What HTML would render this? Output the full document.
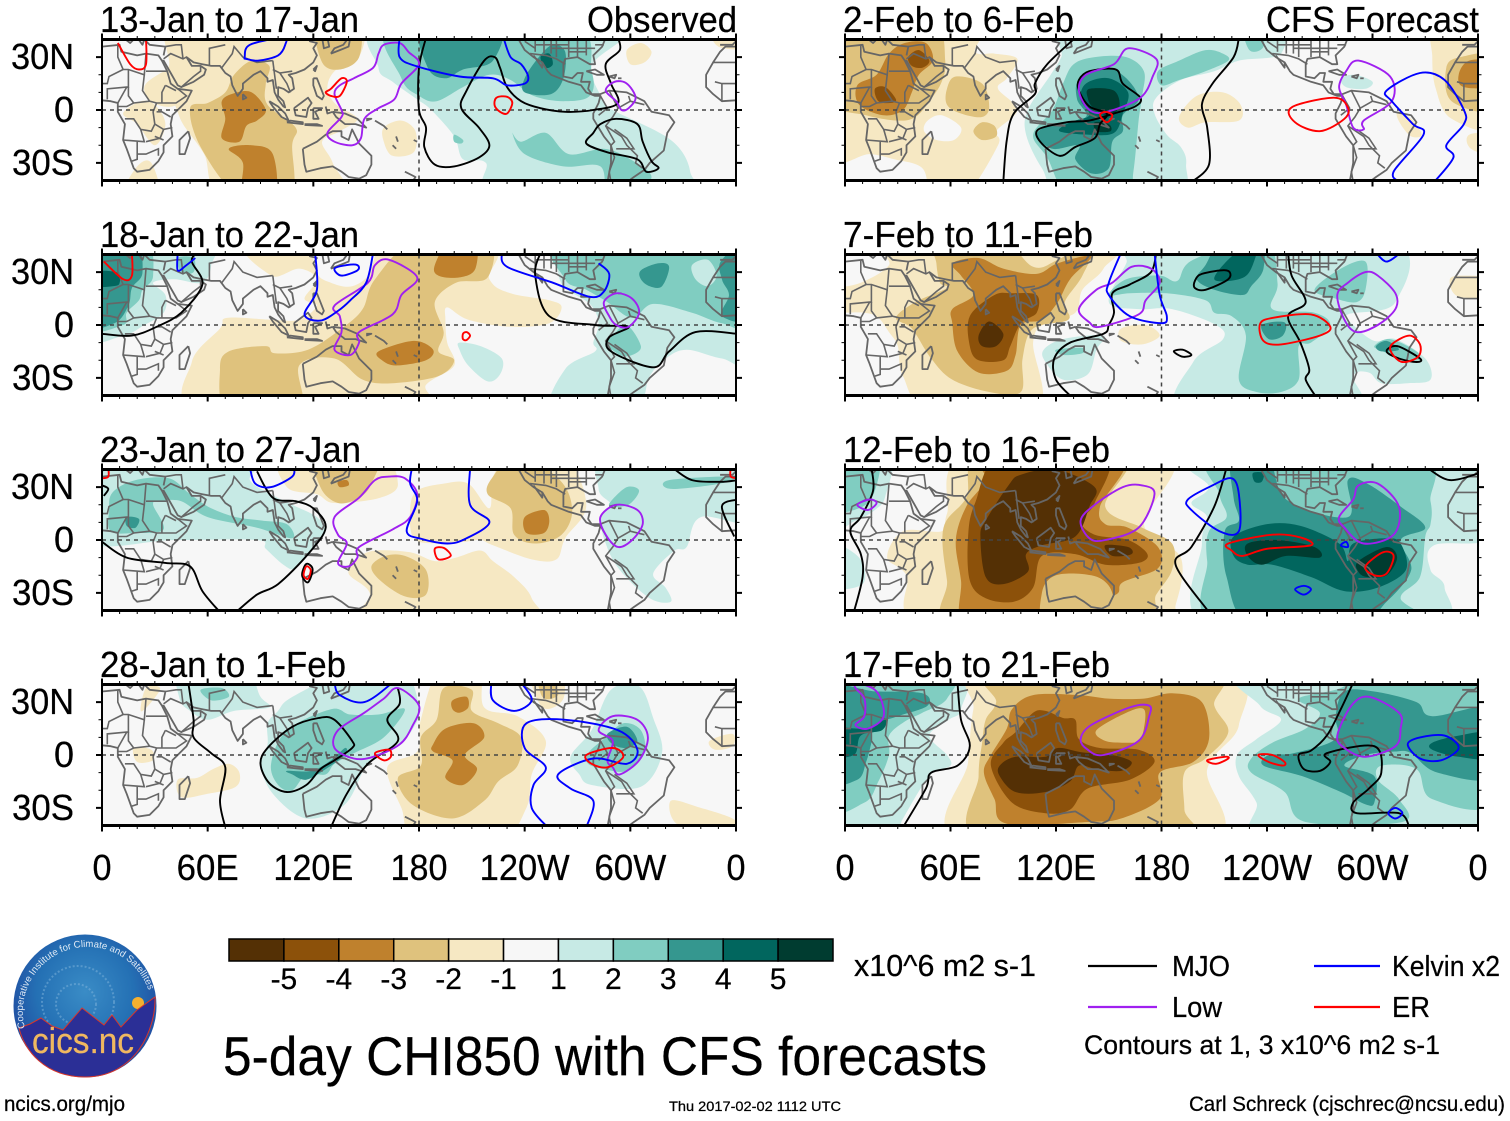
<!DOCTYPE html>
<html lang="en">
<head>
<meta charset="utf-8">
<title>5-day CHI850 with CFS forecasts</title>
<style>
html,body{margin:0;padding:0;background:#fff;}
svg{display:block;}
text{font-family:"Liberation Sans",sans-serif;fill:#000;stroke:#000;stroke-width:.25;}
</style>
</head>
<body>
<svg id="chart" xmlns="http://www.w3.org/2000/svg" width="1510" height="1121" viewBox="0 0 1510 1121">
  <defs>
    <radialGradient id="logoGrad" cx="50%" cy="40%" r="62%">
      <stop offset="0%" stop-color="#3a8cc6"/>
      <stop offset="55%" stop-color="#2470b4"/>
      <stop offset="100%" stop-color="#20439c"/>
    </radialGradient>
    <path id="logoArc" d="M25 1028 A64 64 0 1 1 150 995"/>
  </defs>
  <g id="panels"></g>
  <g id="colorbar"></g>

  <text x="854" y="976" font-size="31" textLength="182" lengthAdjust="spacingAndGlyphs">x10^6 m2 s-1</text>

  <g>
    <line x1="1088" x2="1157" y1="966" y2="966" stroke="#000" stroke-width="2.2"/>
    <text x="1172" y="976" font-size="29" textLength="58" lengthAdjust="spacingAndGlyphs">MJO</text>
    <line x1="1088" x2="1157" y1="1007" y2="1007" stroke="#a020f0" stroke-width="2.2"/>
    <text x="1172" y="1017" font-size="29" textLength="50" lengthAdjust="spacingAndGlyphs">Low</text>
    <line x1="1314" x2="1380" y1="966" y2="966" stroke="#0000ff" stroke-width="2.2"/>
    <text x="1392" y="976" font-size="29" textLength="108" lengthAdjust="spacingAndGlyphs">Kelvin x2</text>
    <line x1="1314" x2="1380" y1="1007" y2="1007" stroke="#ff0000" stroke-width="2.2"/>
    <text x="1392" y="1017" font-size="29" textLength="38" lengthAdjust="spacingAndGlyphs">ER</text>
    <text x="1084" y="1054" font-size="27" textLength="356" lengthAdjust="spacingAndGlyphs">Contours at 1, 3 x10^6 m2 s-1</text>
  </g>

  <text x="223" y="1075" font-size="55" textLength="764" lengthAdjust="spacingAndGlyphs">5-day CHI850 with CFS forecasts</text>
  <text x="4" y="1111" font-size="21" textLength="121" lengthAdjust="spacingAndGlyphs">ncics.org/mjo</text>
  <text x="669" y="1111" font-size="14" textLength="172" lengthAdjust="spacingAndGlyphs">Thu 2017-02-02 1112 UTC</text>
  <text x="1189" y="1111" font-size="21" textLength="316" lengthAdjust="spacingAndGlyphs">Carl Schreck (cjschrec@ncsu.edu)</text>

  <g>
    <ellipse cx="85" cy="1006" rx="71.5" ry="71.5" fill="url(#logoGrad)"/>
    <circle cx="78" cy="1002" r="36" fill="none" stroke="#7fb4dc" stroke-width="2" stroke-dasharray="2 2" opacity=".5"/>
    <circle cx="76" cy="1004" r="20" fill="none" stroke="#7fb4dc" stroke-width="2" stroke-dasharray="2 2" opacity=".5"/>
    <circle cx="138" cy="1003" r="6" fill="#f5b030"/>
    <path d="M19 1028 L30 1024 L41 1018 L52 1026 L63 1030 L82 1008 L104 1025 L112 1015 L121 1027 L137 1010 L155 997 C156 1030 135 1077 85 1077 C45 1077 24 1050 19 1028 Z" fill="#2b2f96" stroke="#d8362a" stroke-width="1"/>
    <text font-size="9.6" style="fill:#dfe9f5;stroke:none"><textPath href="#logoArc">Cooperative Institute for Climate and Satellites</textPath></text>
    <text x="32" y="1053" font-size="36" textLength="102" lengthAdjust="spacingAndGlyphs" style="fill:#f0b860;stroke:#f0b860">cics.nc</text>
  </g>
</svg>

<script>
// ---------- axis ticks ----------
const xTickLons = [0, 60, 120, 180, 240, 300, 360];
const xTickLabels = ['0', '60E', '120E', '180', '120W', '60W', '0'];
const yTickLats = [30, 0, -30];
const yTickLabels = ['30N', '0', '30S'];

// ---------- colour key ----------
const keyLabels = ['-5', '-4', '-3', '-2', '-1', '1', '2', '3', '4', '5'];

// ---------- coastlines and borders (lon, lat) ----------
const coastLines = [
 [[0,36],[10,37],[11,33],[20,31],[25,32],[32,31],[34,28],[37,22],[39,15],[43,12],[51,11],[48,5],[40,-3],[39,-8],[40,-15],[35,-20],[35,-24],[32,-29],[27,-34],[20,-35],[18,-33],[14,-22],[12,-17],[13,-8],[9,-1],[9,4],[5,5],[0,5.5]],
 [[360,5.5],[352,5],[347,9],[343,13],[343,20],[347,27],[351,33],[354,36],[360,36]],
 [[351,37],[354,37],[358,37],[360,39]],
 [[0,39],[3,42]],
 [[12,41],[16,38],[18,40],[14,41]],
 [[20,41],[23,37],[24,40],[27,37],[36,36],[35,31]],
 [[27,41],[36,41.5],[41,41]],
 [[34,28],[35,28],[39,21],[43,14],[45,13],[52,16],[58,20],[59,23],[56,25],[51,25],[48,30],[52,27],[57,26],[62,25],[67,25],[70,21],[73,19],[74,14],[77,8],[80,12],[80,15],[86,20],[90,22],[94,18],[94,16],[97,17],[98,10],[100,6],[103,2],[104,1.5],[103,5],[100,8],[100,13],[103,12],[106,10],[109,12],[108,18],[106,20],[110,21],[115,23],[120,27],[122,31],[120,35],[122,38],[118,39],[122,41]],
 [[125,41],[126,35],[129,36],[128,41]],
 [[130,32],[135,34],[140,36],[141,41]],
 [[130,32],[132,35],[137,37],[140,41]],
 [[120,23],[122,25],[121,22],[120,23]],
 [[120,18],[122,18],[124,13],[126,8],[125,6],[122,8],[120,14],[120,18]],
 [[109,1],[113,4],[117,7],[119,4],[117,1],[116,-4],[110,-3],[109,1]],
 [[95,5],[100,2],[104,-2],[106,-6],[102,-4],[97,2],[95,5]],
 [[105,-7],[114,-8],[114,-7],[107,-6],[105,-7]],
 [[115,-8.5],[125,-9],[122,-8],[115,-8]],
 [[120,1],[125,1],[121,-1],[123,-5],[120,-5],[120,1]],
 [[127,2],[128,-2],[131,-1]],
 [[131,-1],[138,-2],[145,-5],[150,-10],[144,-8],[138,-8],[133,-4],[131,-1]],
 [[150,-5],[153,-5],[150,-6]],
 [[155,-6],[160,-9],[162,-11]],
 [[167,-15],[168,-18]],
 [[165,-20],[167,-22]],
 [[177,-17],[179,-18]],
 [[114,-22],[122,-18],[127,-14],[131,-12],[136,-12],[136,-15],[140,-17],[142,-11],[146,-19],[153,-26],[153,-31],[150,-37],[146,-39],[140,-38],[136,-35],[131,-32],[124,-33],[116,-35],[115,-31],[114,-22]],
 [[172,-35],[178,-38],[176,-41]],
 [[49,-12],[50,-16],[47,-25],[44,-25],[44,-17],[49,-12]],
 [[80,9],[82,7],[80,6],[80,9]],
 [[236,41],[240,34],[245,30],[250,27],[253,22],[255,20],[265,16],[272,14],[275,10],[280,8],[283,8],[282,4],[279,-2],[279,-5],[285,-15],[289,-20],[289,-30],[287,-41]],
 [[298,-41],[302,-38],[308,-34],[311,-30],[319,-23],[321,-13],[325,-7],[322,-3],[312,-1],[308,5],[298,10],[288,11],[283,9],[278,9],[276,12],[277,16],[272,16],[273,21],[270,21],[267,18],[262,19],[262,26],[263,29],[270,30],[277,26],[280,26],[279,31],[284,36],[286,41]],
 [[245,31],[250,24],[250,27]],
 [[275,22],[280,23],[285,20],[281,20],[275,22]],
 [[288,19],[292,20],[291,18],[288,19]],
 [[293,18],[295,18]]
];
const borderLines = [
 [[9,37],[9,30],[12,23],[15,23],[24,20],[25,32]],
 [[25,22],[37,22]],
 [[12,23],[4,19],[3,15],[0,15]],
 [[15,23],[15,13],[14,13],[3,12],[3,6]],
 [[14,13],[9,4]],
 [[24,20],[23,11],[27,5],[31,4],[36,4],[42,4],[48,8],[43,12]],
 [[13,-5],[18,-5],[22,-11],[28,-12],[30,-8],[29,-1],[31,4]],
 [[12,-17],[24,-18],[22,-11]],
 [[40,-10],[35,-11],[30,-8]],
 [[39,-4],[34,-1],[31,-1]],
 [[20,-18],[20,-28],[17,-29]],
 [[25,-18],[33,-16],[35,-11]],
 [[20,-25],[25,-25],[32,-22],[32,-26]],
 [[35,-17],[30,-15]],
 [[36,14],[34,10],[34,4]],
 [[36,14],[42,11]],
 [[15,13],[15,8],[18,4],[14,2],[9,2]],
 [[18,4],[27,5]],
 [[35,29],[39,32],[46,29],[48,30]],
 [[45,13],[52,19],[56,22],[56,25]],
 [[61,25],[61,35],[70,37]],
 [[36,36],[42,37],[45,37],[46,29]],
 [[68,24],[74,32],[75,36],[80,30],[88,27],[97,28]],
 [[97,28],[98,20],[99,12]],
 [[97,23],[101,21],[105,15],[107,10]],
 [[101,21],[108,22]],
 [[0,15],[0,5.5]],
 [[360,15],[352,15],[348,16]],
 [[360,27],[352,27],[347,27]],
 [[352,15],[352,5]],
 [[288,11],[293,1],[290,-4],[286,-9],[291,-18],[289,-20],[291,-27],[288,-35],[289,-41]],
 [[300,5],[293,1]],
 [[286,-9],[295,-15],[298,-20],[304,-26],[303,-30],[307,-33]],
 [[291,-11],[298,-16],[302,-22],[292,-22]],
 [[299,8],[300,5],[308,3]],
 [[283,8],[287,1],[282,-3]],
 [[243,32],[252,31],[258,29],[263,26]],
 [[246,41],[246,33]],[[251,41],[251,32]],[[255,41],[255,32]],[[258,41],[258,30]],
 [[265,41],[265,30]],[[270,41],[270,30]],[[275,40],[275,31]],
 [[246,37],[265,37]],[[255,35],[280,35]],[[265,33],[275,33]],[[240,39],[246,35]],[[280,37],[285,37]]
];

// ---------- panel 1: 13-Jan to 17-Jan ----------
const fillsJan13 = [
 [-1,[[40,41],[100,41],[145,41],[146,30],[132,22],[128,12],[133,3],[145,-5],[135,-12],[125,-18],[131,-30],[135,-41],[70,-41],[58,-25],[46,-8],[40,5],[30,10],[38,25]]],
 [-1,[[25,15],[45,25],[50,10],[40,2],[28,5]]],
 [-1,[[12,-2],[22,5],[30,3],[36,-8],[30,-20],[20,-8]]],
 [-1,[[12,-41],[32,-41],[28,-30],[20,-32]]],
 [-1,[[160,-10],[170,-6],[178,-12],[177,-24],[165,-26],[160,-18]]],
 [-1,[[298,34],[306,38],[312,33],[308,27],[300,26]]],
 [-1,[[347,41],[361,41],[361,36],[350,36]]],
 [-2,[[50,1],[60,4],[70,10],[75,20],[85,28],[95,25],[93,15],[94,3],[110,-10],[108,-20],[107,-41],[78,-41],[56,-21]]],
 [-2,[[122,41],[145,41],[146,30],[135,23],[125,27]]],
 [-3,[[68,5],[75,9.5],[85,10],[93,0],[88,-6],[82,-9],[78,-18],[68,-16],[70,-5]]],
 [-3,[[72,-22],[85,-20],[97,-25],[98,-41],[80,-41],[80,-30]]],
 [1,[[162,41],[293,41],[278,25],[285,5],[290,0],[323,-17],[334,-35],[328,-41],[225,-41],[218,-30],[205,-28],[200,-15],[187,0],[179,6],[165,16],[157,24]]],
 [2,[[166,41],[265,41],[278,22],[277,8],[262,5],[245,8],[232,17],[220,20],[205,13],[190,5],[180,8],[170,18]]],
 [2,[[233,-13],[238,-18],[252,-13],[265,-25],[285,-22],[300,-28],[312,-38],[300,-41],[287,-41],[283,-32],[262,-32],[240,-25]]],
 [2,[[200,-14],[205,-17],[204,-19],[200,-18]]],
 [3,[[182,41],[225,41],[222,28],[205,23],[195,18],[185,24]]],
 [3,[[240,10],[255,9],[262,18],[263,33],[256,37],[248,30],[240,18]]],
 [4,[[249,30],[254,32],[256,26],[252,24]]]
];
const contoursJan13 = [
 ['mjo','open',[[184,41],[180,24],[180,0],[184,-10],[183,-21],[189,-31],[200,-32],[214,-27],[220,-20],[214,-10],[204,1],[207,11],[217,28],[223,30],[226,24],[230,13],[238,5],[249,1],[263,-1],[279,0],[293,4],[289,15],[286,26],[294,34],[293,41]]],
 ['mjo','closed',[[283,-8],[292,-5],[304,-8],[307,-18],[312,-29],[316,-33],[309,-35],[304,-28],[287,-24],[275,-19],[279,-13]]],
 ['low','closed',[[169,38],[160,37],[157,32],[154,24],[143,18],[135,14],[132,9],[136,0],[136,-4],[128,-13],[132,-18],[142,-20],[147,-16],[149,-5],[157,1],[166,6],[170,15],[180,26],[174,33]]],
 ['low','closed',[[291,16],[298,15],[303,7],[299,1],[295,0],[292,5],[286,11]]],
 ['kelvin','closed',[[81,30],[84,37],[103,41],[104,37],[100,31],[89,28],[82,29]]],
 ['kelvin','open',[[169,41],[169,30],[178,25],[203,19],[222,18],[230,14],[240,15],[242,19],[238,26],[232,30],[228,41]]],
 ['er','open',[[9,38],[16,26],[21,23],[25,26],[25,41]]],
 ['er','closed',[[130,12],[136,18],[139,16],[135,8],[130,8],[127,10]]],
 ['er','closed',[[224,7],[230,7.5],[233,4],[230,-2],[226,-1],[223,2.5]]]
];

// ---------- panel 2: 18-Jan to 22-Jan ----------
const fillsJan18 = [
 [1,[[0,41],[60,41],[62,34],[57,24],[41,26],[29,24],[36,17],[35,7],[24,0],[12,-6],[0,-6]]],
 [2,[[0,41],[24,41],[29,28],[23,20],[21,14],[14,7],[12,0],[0,0]]],
 [2,[[43,38],[52,38],[52,30],[45,30]]],
 [3,[[0,41],[18,41],[23,30],[17,21],[15,11],[7,1],[0,2]]],
 [4,[[0,30],[8,30],[10,24],[6,22],[0,22]]],
 [1,[[256,41],[361,41],[361,-20],[352,-19],[332,-14],[320,-19],[311,-29],[301,-41],[256,-41],[263,-25],[280,-15],[279,-10],[282,1],[277,12],[262,22],[258,36]]],
 [1,[[203,-10],[215,-12],[227,-19],[226,-28],[219,-32],[208,-23],[203,-14]]],
 [2,[[262,41],[361,41],[361,0],[352,1],[335,7],[313,12],[301,4],[287,13],[275,20],[263,26]]],
 [2,[[290,-6],[298,0],[306,-12],[301,-17],[294,-17],[286,-10]]],
 [1,[[335,34],[344,37],[349,28],[344,22],[337,26]]],
 [3,[[306,31],[316,35],[322,33],[318,22],[311,22],[306,26]]],
 [3,[[352,37],[361,41],[361,5],[352,5],[356,17],[352,26]]],
 [-1,[[88,41],[215,41],[220,26],[232,18],[254,14],[261,10],[254,1],[232,-1],[208,3],[196,10],[195,3],[196,-10],[200,-23],[184,-34],[179,-41],[57,-41],[51,-21],[67,-2],[71,4],[96,3],[112,3],[122,11],[115,15],[122,26],[112,32],[96,28]]],
 [0,[[122,41],[153,41],[152,30],[142,22],[130,24],[122,30]]],
 [-2,[[155,26],[179,41],[219,41],[219,27],[201,24],[189,13],[194,-4],[191,-15],[200,-20],[191,-29],[165,-33],[148,-31],[132,-19],[112,-23],[112,-41],[72,-41],[67,-25],[72,-15],[93,-12],[98,-16],[117,-14],[136,-2],[148,9]]],
 [-3,[[189,34],[198,41],[212,41],[212,32],[203,27],[191,28]]],
 [-3,[[157,-15],[177,-9],[188,-14],[184,-20],[167,-23],[159,-20]]]
];
const contoursJan18 = [
 ['mjo','open',[[0,-5],[17,-6],[31,-1],[45,7],[57,23],[51,36],[54,41]]],
 ['mjo','open',[[249,41],[246,28],[254,5],[280,0],[299,-1],[288,-7],[289,-15],[313,-24],[322,-15],[337,-4],[361,-5]]],
 ['low','closed',[[163,37],[179,27],[170,17],[165,6],[146,-4],[146,-10],[141,-17],[132,-14],[136,-4],[135,5],[132,11],[151,24],[155,34]]],
 ['low','closed',[[285,13],[292,18],[301,15],[305,7],[299,-1],[292,0],[288,5]]],
 ['kelvin','closed',[[139,34],[145,34],[145,31],[136,28],[132,32]]],
 ['kelvin','open',[[154,41],[150,24],[141,14],[134,8],[124,2.5],[115,6],[122,20],[121,41]]],
 ['kelvin','open',[[43,41],[43,31],[48,34],[53,38]]],
 ['kelvin','open',[[227,41],[230,33],[256,24],[277,16],[285,19],[288,29],[282,35]]],
 ['er','open',[[1,36],[12,26],[17,28],[17,41]]],
 ['er','closed',[[205,-5],[207,-4],[209,-6],[207,-8.5],[205,-8]]]
];

// ---------- panel 3: 23-Jan to 27-Jan ----------
const fillsJan23 = [
 [1,[[0,41],[84,41],[84,34],[96,26],[108,20],[122,13],[127,5],[120,-4],[110,-16],[103,-14],[93,-5],[88,0],[41,0],[0,0]]],
 [2,[[6,27],[19,34],[38,35],[50,26],[62,18],[76,13],[91,11],[105,9],[108,1],[88,7],[60,13],[45,22],[33,22],[29,20],[35,6],[19,4],[5,5],[4,17]]],
 [3,[[14,13],[21,12],[19,7],[14,8]]],
 [1,[[289,41],[361,41],[361,11],[340,13],[332,-4],[325,-6],[313,-19],[320,-27],[323,-35],[311,-33],[294,-17],[286,-2],[283,13],[289,20],[282,29]]],
 [2,[[289,22],[298,30],[305,28],[299,20],[289,19]]],
 [2,[[322,34],[358,36],[351,32],[323,29]]],
 [-1,[[105,30],[103,41],[156,41],[168,32],[158,24],[132,21],[122,26]]],
 [-1,[[175,18],[179,28],[194,32],[208,32],[220,18],[222,36],[234,41],[262,41],[275,20],[263,1],[258,-11],[244,-11],[222,-3],[215,0],[206,-1],[191,-2],[177,1]]],
 [-1,[[146,-10],[155,-6],[175,-7],[189,-12],[201,-10],[215,-6],[222,-12],[234,-21],[244,-33],[244,-41],[151,-41],[152,-30],[140,-19]]],
 [-2,[[122,41],[156,41],[153,32],[146,24],[134,21],[124,30]]],
 [-2,[[219,26],[222,36],[236,41],[260,34],[267,17],[261,3],[246,-2],[234,3],[232,18]]],
 [-2,[[153,-15],[161,-9],[172,-9],[184,-17],[184,-31],[172,-32],[158,-23]]],
 [-3,[[240,13],[251,17],[254,11],[251,4],[241,4]]],
 [-3,[[134,33],[139,34],[140,31],[135,30]]]
];
const contoursJan23 = [
 ['mjo','open',[[0,31],[3.6,29],[1,25]]],
 ['mjo','open',[[324,41],[335,34],[351,33],[361,34]]],
 ['mjo','open',[[361,23],[352,19],[359,2]]],
 ['mjo','open',[[0,-1],[14,-10],[36,-13],[50,-15],[57,-29],[67,-41]]],
 ['mjo','open',[[76,-41],[88,-31],[100,-25],[117,-8],[127,7],[120,18],[110,22],[97,24],[88,39]]],
 ['mjo','closed',[[116,-13.6],[119.6,-16.5],[117,-24],[113.6,-20]]],
 ['low','closed',[[163,36],[172,35],[179,26],[175,13],[165,6],[146,-4],[145,-10],[140,-15],[134,-13],[139,-2],[134,3],[132,13],[146,24],[155,34]]],
 ['low','closed',[[283,13],[292,20],[304,17],[307,9],[301,0],[293,-4],[286,3]]],
 ['kelvin','open',[[84,41],[87,32],[96,30],[108,36],[109,41]]],
 ['kelvin','open',[[176,41],[175,32],[179,22],[173,5],[182,0.5],[196,-2],[206,0.5],[220,10],[209,20],[209,41]]],
 ['er','closed',[[189,-5],[194,-4.5],[198,-9],[191,-11]]],
 ['er','closed',[[116,-15],[118.5,-17],[117,-22],[114.5,-20]]],
 ['er','open',[[0,35],[3.6,36],[3.6,41]]],
 ['er','open',[[357,41],[357,36],[361,35]]]
];

// ---------- panel 4: 28-Jan to 1-Feb ----------
const fillsJan28 = [
 [-1,[[192,41],[214,41],[217,27],[236,22],[252,8],[244,-11],[241,-30],[225,-41],[179,-41],[170,-30],[162,-7],[179,2],[181,20]]],
 [-2,[[194,38],[210,37],[210,25],[225,18],[238,10],[236,-6],[225,-15],[217,-26],[199,-36],[176,-28],[168,-13],[181,-6],[181,10],[190,20]]],
 [-3,[[199,31],[207,33],[208,27],[203,24],[199,26]]],
 [-3,[[188,6],[195,15],[211,18],[217,10],[206,0],[213,-8],[205,-17],[195,-13],[199,-3],[188,2]]],
 [-1,[[43,-14],[54,-13],[63,-8],[72,-5],[78,-10],[76,-18],[60,-22],[45,-24]]],
 [-1,[[18,4],[28,3],[29,-3],[20,-4]]],
 [-1,[[22,25],[25,38],[33,38],[28,30]]],
 [-1,[[323,-26],[340,-30],[358,-36],[358,-40],[328,-40]]],
 [-1,[[345,8],[358,12],[358,5],[348,3]]],
 [-1,[[243,41],[260,41],[262,32],[250,27]]],
 [-2,[[247,41],[258,38],[258,33],[250,33]]],
 [1,[[105,31],[121,40],[138,41],[170,41],[180,27],[176,14],[168,6],[151,-5],[138,-28],[116,-36],[97,-22],[90,-5],[94,6],[94,18],[100,25]]],
 [1,[[45,41],[80,41],[90,33],[95,27],[75,25],[60,20],[50,25],[44,32]]],
 [1,[[266,-1],[278,14],[289,37],[305,39],[313,21],[318,1],[306,-18],[278,-17],[271,-11]]],
 [2,[[96,-5],[105,14],[130,26],[141,23],[157,23],[172,26],[160,10],[143,1],[132,-5],[127,-11],[116,-11],[108,-20],[100,-17]]],
 [2,[[276,1],[286,10],[296,18],[306,14],[308,1],[298,-9],[285,-8],[276,-5]]],
 [2,[[56,37],[68,38],[72,33],[62,31]]],
 [3,[[105,-9],[119,-9],[130,-3],[138,4],[138,0],[127,-8],[116,-14],[108,-11]]],
 [3,[[287,12],[298,16],[304,8],[298,4],[290,6]]]
];
const contoursJan28 = [
 ['mjo','open',[[49,41],[52,20],[52,10],[62,1],[70,-7],[67,-26],[70,-41]]],
 ['mjo','closed',[[94,4],[108,16],[123,21],[132,20],[142,8],[142,4],[132,-3],[124,-8],[116,-17],[105,-21],[95,-16],[90,-5]]],
 ['mjo','open',[[130,-41],[139,-22],[151,-5],[168,8],[162,20],[169,29],[168,38]]],
 ['low','closed',[[168,38],[180,28],[176,16],[169,6],[154,-1],[143,-2],[132,4],[134,14],[149,24],[160,32]]],
 ['low','closed',[[290,22],[304,20],[310,10],[305,-3],[294,-11],[290,-7],[287,-3],[290,8],[282,14]]],
 ['kelvin','open',[[221,41],[222,31],[234,25],[244,31],[238,41]]],
 ['kelvin','open',[[132,41],[135,34],[149,30],[165,41]]],
 ['kelvin','open',[[253,-41],[244,-30],[245,-17],[252,-7],[240,4],[241,18],[263,20],[293,14],[304,3],[298,-5],[279,-2],[259,-11],[266,-19],[279,-26],[275,-41]]],
 ['er','closed',[[155,1],[163,3],[164,-1],[160,-3]]],
 ['er','closed',[[275,0],[290,4],[296,-1],[287,-7],[278,-5]]]
];

// ---------- panel 5: 2-Feb to 6-Feb ----------
const fillsFeb2 = [
 [-1,[[0,41],[72,41],[74,33],[85,32],[98,29],[92,18],[87,12],[98,0],[86,-12],[87,-20],[68,-41],[50,-41],[44,-33],[28,-28],[14,-25],[0,-25]]],
 [0,[[47,-6],[55,-3],[66,-10],[62,-17],[52,-17],[45,-12]]],
 [-1,[[336,41],[361,41],[361,-8],[345,-5],[336,12],[334,30]]],
 [-1,[[355,-14],[361,-14],[361,-26],[356,-22]]],
 [-1,[[190,-4],[200,8],[215,10],[225,3],[224,-6],[205,-7],[195,-10]]],
 [-1,[[314,-2],[322,-5],[328,-14],[322,-15],[316,-8]]],
 [-2,[[0,38],[25,41],[52,41],[57,28],[55,16],[48,5],[40,-4],[30,-6],[12,-3],[0,5]]],
 [-2,[[58,12],[63,19],[78,15],[82,2],[78,-4],[66,-2],[58,3]]],
 [-2,[[73,-12],[78,-7],[85,-9],[86,-15],[78,-17]]],
 [-2,[[342,24],[350,30],[361,30],[361,0],[345,5]]],
 [-3,[[7,14],[18,20],[25,32],[34,38],[46,38],[50,28],[42,20],[38,10],[33,0],[22,-3],[8,3]]],
 [-3,[[349,20],[355,28],[361,27],[361,14],[352,13]]],
 [-4,[[36,30],[42,34],[48,28],[44,24],[38,25]]],
 [-4,[[17,12],[23,13],[29,6],[26,4],[19,5]]],
 [1,[[131,41],[237,41],[248,32],[224,28],[210,22],[191,17],[177,7],[176,-2],[183,-14],[191,-21],[194,-31],[188,-41],[126,-41],[112,-33],[103,-14],[104,0],[117,20],[123,30]]],
 [1,[[282,18],[290,20],[300,16],[296,12],[285,13]]],
 [2,[[124,15],[130,26],[142,30],[160,30],[170,22],[169,8],[167,-6],[164,-35],[160,-41],[128,-41],[115,-27],[107,-14],[118,0]]],
 [2,[[178,22],[190,28],[205,34],[215,32],[218,28],[205,22],[190,17],[180,14]]],
 [2,[[226,41],[236,41],[238,36],[230,34]]],
 [3,[[133,17],[148,24],[160,18],[167,6],[158,-3],[158,-12],[152,-18],[150,-33],[140,-36],[131,-28],[133,-20],[118,-22],[109,-14],[118,-8],[137,-4],[132,6]]],
 [4,[[137,15],[150,18],[161,10],[158,-2],[153,-13],[139,-14],[122,-12],[128,-7],[139,-3],[134,6]]],
 [5,[[139,12],[153,11],[156,1.5],[149,-3],[141,1.5],[138,7]]],
 [5,[[142,-7],[150,-8],[151,-12],[143,-12]]]
];
const contoursFeb2 = [
 ['mjo','open',[[131,41],[115,26],[108,15],[108,9],[96,-2],[92,-17],[90,-41]]],
 ['mjo','closed',[[133,17],[139,22],[154,23],[158,15],[168,7],[165,2],[153,-2],[139,-6],[126,-7],[110,-11],[111,-18],[122,-26],[131,-21],[142,-16],[145,-8],[149,-2],[139,2],[133,11]]],
 ['mjo','open',[[197,-41],[207,-31],[206,-10],[203,3],[209,15],[221,30],[224,41]]],
 ['low','closed',[[161,35],[177,29],[175,19],[168,7],[149,-1],[139,0],[133,11],[137,20],[153,26]]],
 ['low','closed',[[292,28],[310,19],[311,5],[295,-6],[295,-11],[289,-10],[285,3],[281,13],[285,22]]],
 ['er','closed',[[254,1.5],[278,7],[286,1.5],[284,-5],[270,-12],[256,-7]]],
 ['er','closed',[[145,-3],[148,-1],[152,-3],[149,-7]]],
 ['kelvin','open',[[316,-41],[312,-35],[329,-14],[323,-8],[311,5],[308,11],[327,21],[341,17],[352,0],[352,-8],[342,-20],[346,-27],[335,-41]]]
];

// ---------- panel 6: 7-Feb to 11-Feb ----------
const fillsFeb7 = [
 [-1,[[0,19],[9,24],[25,34],[28,41],[150,41],[147,32],[135,20],[131,7],[114,1],[107,-10],[109,-41],[49,-41],[33,-29],[30,-12],[25,-4],[19,4],[11,7],[0,8]]],
 [-1,[[157,-2],[171,0],[179,-6],[169,-11],[157,-9]]],
 [-1,[[344,26],[353,28],[361,26],[361,17],[349,16]]],
 [-2,[[52,41],[88,41],[107,33],[121,37],[143,41],[135,28],[125,13],[127,3],[107,-2],[101,-19],[100,-38],[82,-38],[61,-31],[49,-19],[38,-2],[29,4],[40,13],[58,21],[54,24],[52,35]]],
 [-3,[[61,35],[76,38],[90,32],[109,29],[121,35],[140,39],[128,26],[121,13],[112,3],[100,0],[97,-17],[92,-26],[76,-27],[64,-15],[61,1],[61,9],[73,17],[66,28]]],
 [-4,[[71,5],[85,17],[95,18],[109,17],[109,7],[100,1],[94,-12],[90,-20],[76,-20],[71,-12]]],
 [-5,[[76,-6],[82,2],[90,-5],[86,-12],[78,-12]]],
 [1,[[160,35],[167,41],[308,41],[313,13],[286,6],[289,0],[301,-9],[313,-8],[330,-19],[333,-31],[320,-33],[305,-33],[298,-27],[289,-29],[288,-41],[193,-41],[198,-21],[215,-8],[211,0],[186,9],[167,9],[150,13]]],
 [1,[[113,-14],[124,-8],[147,-6],[143,-14],[138,-28],[124,-31],[114,-21]]],
 [2,[[150,17],[160,26],[179,28],[189,25],[198,37],[238,41],[246,24],[243,9],[267,7],[276,0],[265,-10],[258,-12],[258,-31],[248,-38],[234,-38],[224,-31],[228,-6],[220,5],[210,7],[205,14],[183,18],[162,18]]],
 [2,[[267,20],[282,32],[296,36],[296,20],[291,13],[279,15]]],
 [2,[[301,-12],[310,-8],[325,-15],[326,-20],[315,-19],[306,-15]]],
 [2,[[120,-14],[135,-13],[135,-16],[124,-17]]],
 [3,[[200,26],[205,34],[215,41],[236,41],[238,32],[231,22],[226,17],[210,20]]],
 [3,[[237,0],[250,1.5],[249,-6],[241,-8]]],
 [3,[[302,-12],[308,-9],[315,-14],[305,-15]]],
 [4,[[210,26],[220,39],[235,41],[231,32],[224,26]]]
];
const contoursFeb7 = [
 ['mjo','closed',[[199,25],[203,29],[217,31],[218,26],[205,20],[199,21]]],
 ['mjo','open',[[177,41],[174,30],[162,23],[152,18],[153,7],[150,0],[147,-5],[128,-10],[119,-19],[120,-31],[129,-41]]],
 ['mjo','closed',[[187,-15],[192,-14],[197,-17],[192,-18]]],
 ['mjo','open',[[252,41],[254,28],[262,13],[252,5],[259,-10],[264,-25],[262,-31],[268,-41]]],
 ['mjo','closed',[[308,-15],[314,-12],[327,-19],[325,-21],[315,-19]]],
 ['low','closed',[[163,33],[174,32],[179,24],[171,14],[167,6],[145,-1],[139,1.5],[133,9],[143,20],[152,24]]],
 ['low','closed',[[296,30],[303,28],[313,18],[313,9],[303,0],[291,-4],[284,3],[280,17],[286,24]]],
 ['kelvin','open',[[157,41],[150,24],[150,17],[162,5],[180,1],[183,5],[179,17],[176,41]]],
 ['kelvin','open',[[302,41],[308,36],[316,41]]],
 ['er','closed',[[236,0.5],[243,4],[265,6],[276,-1],[270,-6],[248,-11],[238,-9]]],
 ['er','closed',[[311,-11],[321,-6],[327,-11],[326,-18],[317,-21],[311,-16]]]
];

// ---------- panel 7: 12-Feb to 16-Feb ----------
const fillsFeb12 = [
 [1,[[0,41],[25,41],[23,25],[17,17],[6,11],[0,6]]],
 [1,[[0,-2],[8,-10],[10,-25],[0,-26]]],
 [2,[[0,41],[18,41],[17,28],[8,18],[0,18]]],
 [-1,[[71,41],[183,41],[170,9],[191,-10],[188,-37],[180,-41],[47,-41],[35,-20],[24,-10],[33,5],[55,5],[58,15]]],
 [-2,[[79,41],[159,41],[148,19],[169,7],[186,-2],[186,-17],[177,-31],[166,-41],[63,-41],[58,-23],[56,7],[69,24]]],
 [-3,[[80,41],[157,41],[145,19],[148,9],[161,7],[178,-4],[178,-16],[158,-24],[154,-31],[134,-35],[115,-41],[69,-41],[66,-23],[63,0],[69,19],[80,34]]],
 [-2,[[120,-20],[140,-20],[150,-26],[153,-37],[150,-41],[115,-41],[112,-30]]],
 [-4,[[90,41],[148,41],[142,21],[134,11],[142,3],[161,0],[172,-8],[167,-13],[148,-14],[131,-8],[112,-9],[107,-27],[96,-35],[80,-33],[71,-23],[70,2],[74,21]]],
 [-5,[[100,37],[120,40],[142,30],[139,19],[131,2],[112,-3],[103,-8],[104,-18],[90,-25],[80,-21],[77,2],[80,11],[93,31]]],
 [-5,[[148,-3],[161,-4],[163,-8],[152,-9]]],
 [1,[[203,41],[361,41],[361,3],[335,-3],[333,-17],[341,-27],[333,-41],[207,-41],[203,-2],[206,13],[197,21],[207,30]]],
 [2,[[213,41],[325,41],[333,22],[333,9],[330,2],[327,-21],[316,-33],[327,-41],[213,-41],[206,-12],[207,5],[217,13],[213,26]]],
 [3,[[220,41],[240,41],[251,23],[286,13],[286,34],[297,32],[316,19],[330,7],[316,0],[322,-17],[308,-35],[289,-41],[232,-41],[217,-21],[216,5],[224,11],[221,24]]],
 [4,[[221,2],[240,9],[259,8],[281,-2],[286,-12],[289,-2],[308,1],[316,-2],[319,-17],[303,-27],[284,-29],[265,-21],[243,-14],[229,-14],[221,-9]]],
 [4,[[232,38],[238,38],[237,33],[233,33]]],
 [5,[[229,-2],[246,0],[267,-4],[270,-10],[251,-9],[237,-14],[229,-9]]],
 [5,[[292,-12],[308,-4],[314,-10],[308,-20],[297,-21],[292,-18]]]
];
const contoursFeb12 = [
 ['mjo','open',[[15,41],[16,28],[9,13],[3,5],[9,-8],[10,-21],[5,-41]]],
 ['mjo','open',[[217,41],[210,19],[197,-4],[188,-14],[207,-41]]],
 ['mjo','open',[[331,41],[344,34],[361,38]]],
 ['low','closed',[[169,31],[176,26],[167,7],[148,0],[139,1],[134,11],[142,20],[158,30]]],
 ['low','closed',[[292,31],[303,32],[315,19],[312,3],[295,-2],[284,7],[281,13],[289,23]]],
 ['low','closed',[[7,20],[14,23],[18,21],[13,17]]],
 ['kelvin','closed',[[220,35],[224,26],[224,5],[213,5],[197,17],[195,23],[209,31]]],
 ['kelvin','closed',[[256,-28],[261,-26],[265,-28],[261,-31]]],
 ['kelvin','closed',[[282,-3],[285,-1],[286,-4]]],
 ['er','closed',[[218,-2],[243,3],[259,1.5],[265,-3],[240,-5],[226,-9],[220,-6]]],
 ['er','closed',[[296,-15],[306,-7],[312,-9],[308,-19],[301,-20]]]
];

// ---------- panel 8: 17-Feb to 21-Feb ----------
const fillsFeb17 = [
 [1,[[0,41],[64,41],[66,26],[59,20],[48,11],[58,0],[60,-6],[50,-10],[43,-19],[33,-36],[25,-41],[0,-41]]],
 [2,[[0,41],[59,41],[58,32],[44,24],[34,19],[25,11],[25,0],[19,-15],[11,-27],[0,-27]]],
 [3,[[0,36],[18,36],[44,35],[47,28],[30,22],[17,17],[15,7],[12,-4],[7,-14],[0,-13]]],
 [4,[[0,15],[11,15],[23,20],[21,14],[9,11],[5,0],[0,0]]],
 [-1,[[80,41],[215,41],[224,17],[206,-8],[207,-41],[66,-41],[70,-4],[73,26]]],
 [-2,[[86,41],[207,41],[210,28],[218,13],[205,-2],[193,-10],[193,-31],[193,-41],[78,-41],[76,-12],[78,7],[80,20],[86,30]]],
 [-3,[[107,34],[133,34],[150,32],[170,32],[186,35],[203,30],[207,9],[198,-4],[179,-10],[179,-25],[157,-36],[138,-38],[92,-39],[85,-25],[79,-10],[83,0],[92,15],[95,26]]],
 [-2,[[143,14],[160,24],[170,26],[170,15],[167,8],[160,7],[148,8]]],
 [-4,[[97,13],[107,24],[114,25],[124,21],[131,20],[133,9],[145,4],[167,3],[176,-4],[162,-14],[138,-19],[128,-31],[114,-33],[95,-27],[83,-6],[90,7]]],
 [-5,[[88,-6],[97,-1],[114,-1],[121,4],[135,1.5],[152,0],[163,-4],[157,-9],[143,-8],[133,-6],[128,-15],[114,-21],[97,-21],[88,-12]]],
 [1,[[229,41],[361,41],[361,-41],[241,-41],[234,-27],[224,-12],[223,0],[234,9],[248,20],[236,28]]],
 [2,[[258,32],[282,38],[300,41],[361,41],[361,-25],[334,-25],[325,-8],[305,-6],[303,-14],[315,-25],[317,-38],[262,-38],[250,-21],[231,-10],[231,-2],[243,7],[262,15],[270,24]]],
 [3,[[284,36],[301,36],[325,30],[334,22],[361,26],[361,-12],[337,-10],[322,1],[313,2],[296,0],[284,-6],[301,-12],[301,-27],[296,-28],[282,-21],[260,-12],[238,-6],[241,0],[255,1],[279,9],[279,22]]],
 [4,[[334,7],[349,11],[361,13],[361,-2],[349,-1],[334,3]]]
];
const contoursFeb17 = [
 ['mjo','open',[[64,41],[66,20],[71,5],[64,-6],[49,-10],[46,-19],[33,-41]]],
 ['mjo','open',[[289,41],[282,26],[274,11],[265,2.5],[258,0],[261,-8],[270,-9],[276,-4],[274,1],[301,5],[305,-10],[298,-19],[289,-27],[291,-33],[315,-33],[321,-41]]],
 ['low','closed',[[162,27],[173,28],[173,22],[167,8],[147,0],[138,3],[134,9],[140,17]]],
 ['low','closed',[[298,33],[315,24],[316,15],[313,5],[296,-1],[284,4],[280,11],[288,28]]],
 ['low','closed',[[6,41],[18,36],[22,22],[13,15],[6,17],[11,22],[11,32],[6,38]]],
 ['kelvin','closed',[[320,6],[327,10],[341,11],[349,4],[339,-3],[327,-2]]],
 ['kelvin','closed',[[309,-33],[313,-30],[317,-33],[313,-36]]],
 ['er','closed',[[206,-3],[216,-1],[218,-2],[211,-5]]],
 ['er','closed',[[235,0],[243,0],[250,-4],[249,-6],[241,-4]]]
];

// ---------- styles and layout (separate from the data) ----------
const levelColor = {'-5':'#543005','-4':'#8c510a','-3':'#bf812d','-2':'#dfc27d','-1':'#f6e8c3','0':'#f7f7f7','1':'#c7eae5','2':'#80cdc1','3':'#35978f','4':'#01665e','5':'#003c30'};
const keyColors = ['#543005','#8c510a','#bf812d','#dfc27d','#f6e8c3','#f7f7f7','#c7eae5','#80cdc1','#35978f','#01665e','#003c30'];
const seriesColor = {mjo:'#000000', low:'#a020f0', kelvin:'#0000ff', er:'#ff0000'};
const xLabelWidth = {'0':19,'60E':62,'120E':80,'180':57,'120W':90,'60W':72};
const yLabelWidth = {'30N':63,'0':20,'30S':62};

const SVGNS = 'http://www.w3.org/2000/svg';
const LON_SPAN = 360, LAT_MAX = 40;
const panelDefs = [
 {title:'13-Jan to 17-Jan', w:259, note:'Observed', nw:150, col:0, row:0, fills:fillsJan13, lines:contoursJan13},
 {title:'18-Jan to 22-Jan', w:259, col:0, row:1, fills:fillsJan18, lines:contoursJan18},
 {title:'23-Jan to 27-Jan', w:261, col:0, row:2, fills:fillsJan23, lines:contoursJan23},
 {title:'28-Jan to 1-Feb', w:246, col:0, row:3, fills:fillsJan28, lines:contoursJan28},
 {title:'2-Feb to 6-Feb', w:231, note:'CFS Forecast', nw:213, col:1, row:0, fills:fillsFeb2, lines:contoursFeb2},
 {title:'7-Feb to 11-Feb', w:250, col:1, row:1, fills:fillsFeb7, lines:contoursFeb7},
 {title:'12-Feb to 16-Feb', w:267, col:1, row:2, fills:fillsFeb12, lines:contoursFeb12},
 {title:'17-Feb to 21-Feb', w:267, col:1, row:3, fills:fillsFeb17, lines:contoursFeb17}
];
const colX = [102, 845], colW = [634, 633];
const rowEq = [110, 325, 540, 755];
const PANEL_H = 141;

function mk(tag, parent, attrs, txt) {
  const e = document.createElementNS(SVGNS, tag);
  for (const k in attrs) e.setAttribute(k, attrs[k]);
  if (txt !== undefined) e.textContent = txt;
  parent.appendChild(e);
  return e;
}
function smoothPath(pts, closed) {
  const n = pts.length;
  const at = i => closed ? pts[(i + n) % n] : pts[Math.max(0, Math.min(n - 1, i))];
  let d = 'M' + pts[0][0].toFixed(1) + ' ' + pts[0][1].toFixed(1);
  const last = closed ? n : n - 1;
  for (let i = 0; i < last; i++) {
    const p0 = at(i - 1), p1 = at(i), p2 = at(i + 1), p3 = at(i + 2);
    const c1x = p1[0] + (p2[0] - p0[0]) / 6, c1y = p1[1] + (p2[1] - p0[1]) / 6;
    const c2x = p2[0] - (p3[0] - p1[0]) / 6, c2y = p2[1] - (p3[1] - p1[1]) / 6;
    d += 'C' + c1x.toFixed(1) + ' ' + c1y.toFixed(1) + ' ' + c2x.toFixed(1) + ' ' + c2y.toFixed(1) + ' ' + p2[0].toFixed(1) + ' ' + p2[1].toFixed(1);
  }
  return d + (closed ? 'Z' : '');
}
function overshoot(pt) {
  let lon = pt[0], lat = pt[1];
  if (lon >= 360) lon += 10;
  if (lon <= 0) lon -= 10;
  if (lat >= 40.5) lat += 8;
  if (lat <= -40.5) lat -= 8;
  return [lon, lat];
}

const root = document.getElementById('panels');
panelDefs.forEach(function (p, idx) {
  const x0 = colX[p.col], W = colW[p.col], y0 = rowEq[p.row];
  const sx = W / LON_SPAN, sy = PANEL_H / (2 * LAT_MAX);
  const xOf = lon => x0 + lon * sx;
  const yOf = lat => y0 - lat * sy;
  const project = pt => [xOf(pt[0]), yOf(pt[1])];
  const top = yOf(LAT_MAX), bottom = yOf(-LAT_MAX);

  const g = mk('g', root, {});
  
  

  const clip = mk('clipPath', g, {id: 'clip' + idx});
  mk('rect', clip, {x: x0, y: top, width: W, height: PANEL_H});

  const bg = mk('rect', g, {x: x0, y: top, width: W, height: PANEL_H, fill: '#f7f7f7'});
  
  

  const body = mk('g', g, {'clip-path': 'url(#clip' + idx + ')'});

  p.fills.forEach(function (f) {
    const el = mk('path', body, {d: smoothPath(f[1].map(overshoot).map(project), true), fill: levelColor[f[0]], stroke: 'none'});
    
    
  });

  coastLines.forEach(function (c) {
    const el = mk('polyline', body, {points: c.map(project).map(q => q[0].toFixed(1) + ',' + q[1].toFixed(1)).join(' '), fill: 'none', stroke: '#666', 'stroke-width': 1.8, 'stroke-linejoin': 'round'});
    
    
  });
  borderLines.forEach(function (c) {
    const el = mk('polyline', body, {points: c.map(project).map(q => q[0].toFixed(1) + ',' + q[1].toFixed(1)).join(' '), fill: 'none', stroke: '#666', 'stroke-width': 1.6});
    
    
  });

  const eq = mk('line', body, {x1: xOf(0), x2: xOf(360), y1: yOf(0), y2: yOf(0), stroke: '#444', 'stroke-width': 1.5, 'stroke-dasharray': '4 4'});
  
  
  const dl = mk('line', body, {x1: xOf(180), x2: xOf(180), y1: top, y2: bottom, stroke: '#444', 'stroke-width': 1.5, 'stroke-dasharray': '4 4'});
  
  

  p.lines.forEach(function (l) {
    const el = mk('path', body, {d: smoothPath(l[2].map(project), l[1] === 'closed'), fill: 'none', stroke: seriesColor[l[0]], 'stroke-width': 1.9, 'stroke-linejoin': 'round'});
    
    
  });

  const frame = mk('g', g, {});
  
  
  mk('line', frame, {x1: x0 - 1, x2: x0 + W + 1, y1: top, y2: top, stroke: '#000', 'stroke-width': 3});
  mk('line', frame, {x1: x0 - 1, x2: x0 + W + 1, y1: bottom, y2: bottom, stroke: '#000', 'stroke-width': 3});
  mk('line', frame, {x1: x0, x2: x0, y1: top, y2: bottom, stroke: '#000', 'stroke-width': 2});
  mk('line', frame, {x1: x0 + W, x2: x0 + W, y1: top, y2: bottom, stroke: '#000', 'stroke-width': 2});

  for (let lon = 0; lon <= 360; lon += 10) {
    const major = xTickLons.indexOf(lon) >= 0;
    const len = major ? 6 : 3.5;
    mk('line', frame, {x1: xOf(lon), x2: xOf(lon), y1: top, y2: top - len, stroke: '#000', 'stroke-width': major ? 2 : 1});
    mk('line', frame, {x1: xOf(lon), x2: xOf(lon), y1: bottom, y2: bottom + len, stroke: '#000', 'stroke-width': major ? 2 : 1});
  }
  for (let lat = -30; lat <= 30; lat += 10) {
    const major = yTickLats.indexOf(lat) >= 0;
    const len = major ? 6 : 3.5;
    mk('line', frame, {x1: x0, x2: x0 - len, y1: yOf(lat), y2: yOf(lat), stroke: '#000', 'stroke-width': major ? 2 : 1});
    mk('line', frame, {x1: x0 + W, x2: x0 + W + len, y1: yOf(lat), y2: yOf(lat), stroke: '#000', 'stroke-width': major ? 2 : 1});
  }

  const t = mk('text', g, {x: x0 - 2, y: top - 7.5, 'font-size': 36, textLength: p.w, lengthAdjust: 'spacingAndGlyphs'}, p.title);
  
  
  if (p.note) {
    const n = mk('text', g, {x: x0 + W + 1 - p.nw, y: top - 7.5, 'font-size': 36, textLength: p.nw, lengthAdjust: 'spacingAndGlyphs'}, p.note);
    
    
  }

  if (p.col === 0) {
    yTickLats.forEach(function (lat, i) {
      const lb = yTickLabels[i];
      const w = yLabelWidth[lb];
      const yt = mk('text', g, {x: 74 - w, y: yOf(lat) + 12, 'font-size': 36, textLength: w, lengthAdjust: 'spacingAndGlyphs'}, lb);
      
      
    });
  }
  if (p.row === 3) {
    xTickLons.forEach(function (lon, i) {
      const lb = xTickLabels[i];
      const w = xLabelWidth[lb];
      const xt = mk('text', g, {x: xOf(lon) - w / 2, y: 880, 'font-size': 36, textLength: w, lengthAdjust: 'spacingAndGlyphs'}, lb);
      
      
    });
  }
});

// ---------- colour bar ----------
const bar = document.getElementById('colorbar');
const KEY_X = 229, KEY_SPAN = 604, KEY_Y = 939, KEY_H = 22;
keyColors.forEach(function (c, i) {
  const r = mk('rect', bar, {x: KEY_X + i * (KEY_SPAN / keyColors.length), y: KEY_Y, width: KEY_SPAN / keyColors.length, height: KEY_H, fill: c, stroke: '#000', 'stroke-width': 1.5});
  
  
});
keyLabels.forEach(function (lb, i) {
  const tx = mk('text', bar, {x: KEY_X + (i + 1) * (KEY_SPAN / keyColors.length), y: 989, 'font-size': 30, 'text-anchor': 'middle'}, lb);
  
  
});
</script>
</body>
</html>
